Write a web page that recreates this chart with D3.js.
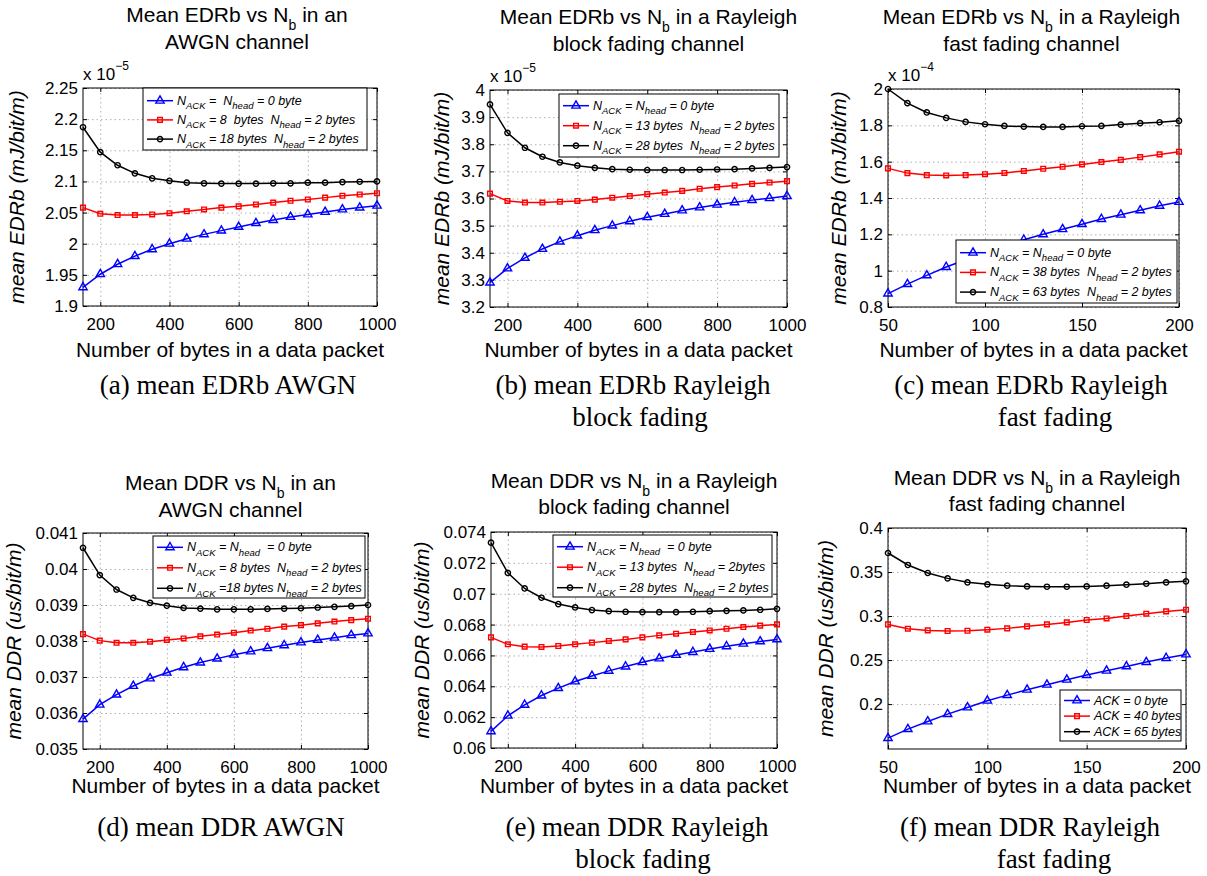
<!DOCTYPE html>
<html lang="en">
<head>
  <meta charset="UTF-8">
  <title>Mean EDRb and DDR vs Nb</title>
  <script src="https://d3js.org/d3.v7.min.js"></script>
  <style>
    body { margin: 0; padding: 0; background: #fff; }
    svg { font-family: "Liberation Sans", Arial, sans-serif; }
    .grid line { stroke: #b0b0b0; stroke-dasharray: 1.5,3; }
    .grid path { display: none; }
    .ticks path { display: none; }
    .ticks line { stroke: #000; }
    .ticks text { font-size: 17px; fill: #000; }
    .caption { font-family: "Liberation Serif", "Times New Roman", serif; font-size: 27px; }
  </style>
</head>
<body>
  <div id="chart"></div>
  <script>
    // x values (bytes per packet)
    const nbLong = [150, 200, 250, 300, 350, 400, 450, 500, 550, 600, 650, 700, 750, 800, 850, 900, 950, 1000];
    const nbShort = [50, 60, 70, 80, 90, 100, 110, 120, 130, 140, 150, 160, 170, 180, 190, 200];

    // (a) mean EDRb, AWGN (x 1e-5)
    const edrbAwgnNoAck = [1.930, 1.951, 1.967, 1.980, 1.991, 2.000, 2.008, 2.015, 2.021, 2.027, 2.033, 2.038, 2.043, 2.047, 2.051, 2.055, 2.058, 2.061];
    const edrbAwgnAck8 = [2.058, 2.048, 2.046, 2.046, 2.047, 2.049, 2.052, 2.055, 2.058, 2.060, 2.063, 2.066, 2.069, 2.071, 2.074, 2.077, 2.079, 2.081];
    const edrbAwgnAck18 = [2.187, 2.147, 2.126, 2.113, 2.105, 2.101, 2.098, 2.097, 2.0965, 2.0965, 2.0965, 2.097, 2.097, 2.098, 2.098, 2.099, 2.0995, 2.100];

    // (b) mean EDRb, Rayleigh block fading (x 1e-5)
    const edrbBlockNoAck = [3.290, 3.342, 3.381, 3.414, 3.441, 3.463, 3.483, 3.500, 3.516, 3.531, 3.543, 3.556, 3.567, 3.577, 3.586, 3.594, 3.601, 3.609];
    const edrbBlockAck13 = [3.618, 3.591, 3.585, 3.585, 3.588, 3.591, 3.596, 3.603, 3.609, 3.616, 3.622, 3.628, 3.636, 3.642, 3.648, 3.654, 3.659, 3.664];
    const edrbBlockAck28 = [3.947, 3.842, 3.787, 3.754, 3.733, 3.721, 3.713, 3.708, 3.706, 3.705, 3.705, 3.705, 3.706, 3.707, 3.708, 3.711, 3.713, 3.716];

    // (c) mean EDRb, Rayleigh fast fading (x 1e-4)
    const edrbFastNoAck = [0.874, 0.926, 0.974, 1.020, 1.060, 1.100, 1.137, 1.170, 1.200, 1.228, 1.256, 1.284, 1.308, 1.332, 1.357, 1.378];
    const edrbFastAck38 = [1.563, 1.537, 1.526, 1.524, 1.526, 1.531, 1.538, 1.549, 1.561, 1.572, 1.585, 1.598, 1.610, 1.625, 1.640, 1.655];
    const edrbFastAck63 = [2.000, 1.922, 1.871, 1.841, 1.819, 1.806, 1.797, 1.793, 1.791, 1.791, 1.795, 1.797, 1.804, 1.812, 1.817, 1.825];

    // (d) mean DDR, AWGN
    const ddrAwgnNoAck = [0.03583, 0.03623, 0.03651, 0.03675, 0.03696, 0.03712, 0.03727, 0.03740, 0.03751, 0.03762, 0.03771, 0.03780, 0.03788, 0.03796, 0.03803, 0.03809, 0.03816, 0.03821];
    const ddrAwgnAck8 = [0.03819, 0.03801, 0.03795, 0.03795, 0.03798, 0.03803, 0.03807, 0.03813, 0.03818, 0.03823, 0.03829, 0.03834, 0.03840, 0.03844, 0.03849, 0.03854, 0.03858, 0.03862];
    const ddrAwgnAck18 = [0.04059, 0.03983, 0.03943, 0.03920, 0.03906, 0.03898, 0.03892, 0.03890, 0.03888, 0.03888, 0.03888, 0.03889, 0.03890, 0.03891, 0.03893, 0.03895, 0.03897, 0.03900];

    // (e) mean DDR, Rayleigh block fading
    const ddrBlockNoAck = [0.06108, 0.06209, 0.06280, 0.06340, 0.06388, 0.06431, 0.06467, 0.06500, 0.06528, 0.06556, 0.06580, 0.06603, 0.06622, 0.06642, 0.06659, 0.06676, 0.06691, 0.06704];
    const ddrBlockAck13 = [0.06717, 0.06672, 0.06657, 0.06655, 0.06661, 0.06672, 0.06683, 0.06694, 0.06704, 0.06717, 0.06730, 0.06741, 0.06752, 0.06762, 0.06773, 0.06784, 0.06793, 0.06801];
    const ddrBlockAck28 = [0.07331, 0.07135, 0.07034, 0.06974, 0.06933, 0.06911, 0.06894, 0.06887, 0.06883, 0.06881, 0.06881, 0.06881, 0.06883, 0.06887, 0.06889, 0.06892, 0.06896, 0.06902];

    // (f) mean DDR, Rayleigh fast fading
    const ddrFastNoAck = [0.1614, 0.1716, 0.1803, 0.1886, 0.1962, 0.2038, 0.2102, 0.2163, 0.2220, 0.2277, 0.2330, 0.2379, 0.2428, 0.2477, 0.2523, 0.2564];
    const ddrFastAck40 = [0.2905, 0.2856, 0.2837, 0.2830, 0.2833, 0.2845, 0.2860, 0.2883, 0.2905, 0.2928, 0.2955, 0.2973, 0.3000, 0.3027, 0.3053, 0.3072];
    const ddrFastAck65 = [0.3716, 0.3580, 0.3489, 0.3428, 0.3383, 0.3360, 0.3345, 0.3337, 0.3333, 0.3333, 0.3337, 0.3345, 0.3356, 0.3367, 0.3383, 0.3394];

    // tick values
    const xTicksLong = [200, 400, 600, 800, 1000];
    const xTicksShort = [50, 100, 150, 200];
    const yTicksA = [1.9, 1.95, 2, 2.05, 2.1, 2.15, 2.2, 2.25];
    const yTicksB = [3.2, 3.3, 3.4, 3.5, 3.6, 3.7, 3.8, 3.9, 4];
    const yTicksC = [0.8, 1, 1.2, 1.4, 1.6, 1.8, 2];
    const yTicksD = [0.035, 0.036, 0.037, 0.038, 0.039, 0.04, 0.041];
    const yTicksE = [0.06, 0.062, 0.064, 0.066, 0.068, 0.07, 0.072, 0.074];
    const yTicksF = [0.2, 0.25, 0.3, 0.35, 0.4];

    // legend texts (_{..} = subscript)
    const legendA = ["N_{ACK} =  N_{head} = 0 byte", "N_{ACK} = 8  bytes  N_{head} = 2 bytes", "N_{ACK} = 18 bytes  N_{head} = 2 bytes"];
    const legendB = ["N_{ACK} = N_{head} = 0 byte", "N_{ACK} = 13 bytes  N_{head} = 2 bytes", "N_{ACK} = 28 bytes  N_{head} = 2 bytes"];
    const legendC = ["N_{ACK} = N_{head} = 0 byte", "N_{ACK} = 38 bytes  N_{head} = 2 bytes", "N_{ACK} = 63 bytes  N_{head} = 2 bytes"];
    const legendD = ["N_{ACK} = N_{head}  = 0 byte", "N_{ACK} = 8 bytes  N_{head} = 2 bytes", "N_{ACK} =18 bytes N_{head} = 2 bytes"];
    const legendE = ["N_{ACK} = N_{head}  = 0 byte", "N_{ACK} = 13 bytes  N_{head} = 2bytes", "N_{ACK} = 28 bytes  N_{head} = 2 bytes"];
    const legendF = ["ACK = 0 byte", "ACK = 40 bytes", "ACK = 65 bytes"];

    const colors = ["#0000ff", "#ff0000", "#000000"];
    const markers = [d3.symbolTriangle, d3.symbolSquare, d3.symbolCircle];
    const markerSizes = [30, 22, 22];

    // layout of the six panels
    const panels = [
      { left: 83, right: 377, top: 88, bottom: 306, xs: nbLong, xDomain: [150, 1000], xTicks: xTicksLong,
        yDomain: [1.9, 2.25], yTicks: yTicksA, series: [edrbAwgnNoAck, edrbAwgnAck8, edrbAwgnAck18],
        title: ["Mean EDRb vs N_{b} in an", "AWGN channel"], titleDx: 7, titleY: [22, 49],
        ylabel: "mean EDRb (mJ/bit/m)", ylabelX: 24, exponent: "\u22125",
        xlabelY: 357, legend: legendA, lg: { x: 143, y: 88, w: 224, h: 62, r0: 12.7, step: 19.2 },
        caption: ["(a) mean EDRb AWGN"], capX: [228], capY: [394] },
      { left: 490, right: 787, top: 90, bottom: 307, xs: nbLong, xDomain: [150, 1000], xTicks: xTicksLong,
        yDomain: [3.2, 4], yTicks: yTicksB, series: [edrbBlockNoAck, edrbBlockAck13, edrbBlockAck28],
        title: ["Mean EDRb vs N_{b} in a Rayleigh", "block fading channel"], titleDx: 10, titleY: [24, 51],
        ylabel: "mean EDRb (mJ/bit/m)", ylabelX: 449, exponent: "\u22125",
        xlabelY: 357, legend: legendB, lg: { x: 559, y: 94, w: 220, h: 63, r0: 11.7, step: 20 },
        caption: ["(b) mean EDRb Rayleigh", "block fading"], capX: [633, 640], capY: [394, 426] },
      { left: 888, right: 1179, top: 89, bottom: 307, xs: nbShort, xDomain: [50, 200], xTicks: xTicksShort,
        yDomain: [0.8, 2], yTicks: yTicksC, series: [edrbFastNoAck, edrbFastAck38, edrbFastAck63],
        title: ["Mean EDRb vs N_{b} in a Rayleigh", "fast fading channel"], titleDx: -2, titleY: [24, 51],
        ylabel: "mean EDRb (mJ/bit/m)", ylabelX: 846, exponent: "\u22124",
        xlabelY: 357, legend: legendC, lg: { x: 956, y: 240, w: 221, h: 63, r0: 12.7, step: 19.7 },
        caption: ["(c) mean EDRb Rayleigh", "fast fading"], capX: [1031, 1055], capY: [394, 426] },
      { left: 83, right: 368, top: 533, bottom: 749, xs: nbLong, xDomain: [150, 1000], xTicks: xTicksLong,
        yDomain: [0.035, 0.041], yTicks: yTicksD, series: [ddrAwgnNoAck, ddrAwgnAck8, ddrAwgnAck18],
        title: ["Mean DDR vs N_{b} in an", "AWGN channel"], titleDx: 5, titleY: [490, 517],
        ylabel: "mean DDR (us/bit/m)", ylabelX: 21, exponent: null,
        xlabelY: 793, legend: legendD, lg: { x: 153, y: 536, w: 212, h: 62, r0: 11.3, step: 20.5 },
        caption: ["(d) mean DDR AWGN"], capX: [221], capY: [836] },
      { left: 491, right: 777, top: 532, bottom: 748, xs: nbLong, xDomain: [150, 1000], xTicks: xTicksLong,
        yDomain: [0.06, 0.074], yTicks: yTicksE, series: [ddrBlockNoAck, ddrBlockAck13, ddrBlockAck28],
        title: ["Mean DDR vs N_{b} in a Rayleigh", "block fading channel"], titleDx: 0, titleY: [488, 514],
        ylabel: "mean DDR (us/bit/m)", ylabelX: 429, exponent: null,
        xlabelY: 793, legend: legendE, lg: { x: 553, y: 535, w: 219, h: 62, r0: 11.7, step: 20.5 },
        caption: ["(e) mean DDR Rayleigh", "block fading"], capX: [637, 643], capY: [836, 868] },
      { left: 888, right: 1186, top: 528, bottom: 749, xs: nbShort, xDomain: [50, 200], xTicks: xTicksShort,
        yDomain: [0.149, 0.4], yTicks: yTicksF, series: [ddrFastNoAck, ddrFastAck40, ddrFastAck65],
        title: ["Mean DDR vs N_{b} in a Rayleigh", "fast fading channel"], titleDx: 0, titleY: [485, 511],
        ylabel: "mean DDR (us/bit/m)", ylabelX: 833, exponent: null,
        xlabelY: 793, legend: legendF, lg: { x: 1060, y: 690, w: 121, h: 51, r0: 10.5, step: 15.6 },
        caption: ["(f) mean DDR Rayleigh", "fast fading"], capX: [1030, 1054], capY: [836, 868] }
    ];

    const svg = d3.select("#chart").append("svg")
      .attr("width", 1207)
      .attr("height", 876);

    // writes "N_{ACK} = ..." as tspans with subscripts
    function richText(text, str, subSize, shift) {
      const parts = str.split(/_\{(.*?)\}/);
      let down = false;
      parts.forEach((p, i) => {
        if (p === "") return;
        const t = text.append("tspan").text(p);
        if (i % 2 === 1) {
          t.attr("font-size", subSize).attr("dy", shift);
          down = true;
        } else if (down) {
          t.attr("dy", -shift);
          down = false;
        }
      });
      return text;
    }

    panels.forEach(p => {
      const g = svg.append("g");
      const x = d3.scaleLinear().domain(p.xDomain).range([p.left, p.right]);
      const y = d3.scaleLinear().domain(p.yDomain).range([p.bottom, p.top]);
      const w = p.right - p.left, h = p.bottom - p.top;
      const cx = (p.left + p.right) / 2;

      // dotted grid
      g.append("g").attr("class", "grid")
        .attr("transform", `translate(0,${p.bottom})`)
        .call(d3.axisBottom(x).tickValues(p.xTicks).tickSize(-h).tickFormat(""));
      g.append("g").attr("class", "grid")
        .attr("transform", `translate(${p.left},0)`)
        .call(d3.axisLeft(y).tickValues(p.yTicks).tickSize(-w).tickFormat(""));

      // ticks on all four sides, pointing inward
      g.append("g").attr("class", "ticks")
        .attr("transform", `translate(0,${p.bottom})`)
        .call(d3.axisBottom(x).tickValues(p.xTicks).tickSize(-4).tickPadding(12).tickFormat(d => String(d)));
      g.append("g").attr("class", "ticks")
        .attr("transform", `translate(0,${p.top})`)
        .call(d3.axisTop(x).tickValues(p.xTicks).tickSize(-4).tickFormat(""));
      g.append("g").attr("class", "ticks")
        .attr("transform", `translate(${p.left},0)`)
        .call(d3.axisLeft(y).tickValues(p.yTicks).tickSize(-4).tickPadding(5).tickFormat(d => String(d)));
      g.append("g").attr("class", "ticks")
        .attr("transform", `translate(${p.right},0)`)
        .call(d3.axisRight(y).tickValues(p.yTicks).tickSize(-4).tickFormat(""));

      g.append("rect")
        .attr("x", p.left).attr("y", p.top)
        .attr("width", w).attr("height", h)
        .attr("fill", "none").attr("stroke", "#000").attr("stroke-width", 1);

      // series
      const line = d3.line().x(d => x(d[0])).y(d => y(d[1]));
      p.series.forEach((vals, k) => {
        const pts = vals.map((v, i) => [p.xs[i], v]);
        g.append("path")
          .datum(pts)
          .attr("d", line)
          .attr("fill", "none")
          .attr("stroke", colors[k])
          .attr("stroke-width", 1.5);
        g.selectAll(null)
          .data(pts)
          .join("path")
          .attr("transform", d => `translate(${x(d[0])},${y(d[1])})`)
          .attr("d", d3.symbol(markers[k], markerSizes[k]))
          .attr("fill", "none")
          .attr("stroke", colors[k])
          .attr("stroke-width", 1.4);
      });

      // legend
      const lg = p.lg;
      g.append("rect")
        .attr("x", lg.x).attr("y", lg.y)
        .attr("width", lg.w).attr("height", lg.h)
        .attr("fill", "#fff").attr("stroke", "#000").attr("stroke-width", 1);
      p.legend.forEach((label, k) => {
        const ry = lg.y + lg.r0 + k * lg.step;
        g.append("line")
          .attr("x1", lg.x + 4).attr("x2", lg.x + 30)
          .attr("y1", ry).attr("y2", ry)
          .attr("stroke", colors[k]).attr("stroke-width", 1.5);
        g.append("path")
          .attr("transform", `translate(${lg.x + 17},${ry})`)
          .attr("d", d3.symbol(markers[k], markerSizes[k]))
          .attr("fill", "none")
          .attr("stroke", colors[k])
          .attr("stroke-width", 1.4);
        const t = g.append("text")
          .attr("x", lg.x + 34).attr("y", ry + 4)
          .attr("font-size", 12.5)
          .attr("font-style", "italic")
          .style("white-space", "pre");
        richText(t, label, 9.5, 4.5);
      });

      // title
      p.title.forEach((line, i) => {
        const t = g.append("text")
          .attr("x", cx + p.titleDx).attr("y", p.titleY[i])
          .attr("text-anchor", "middle")
          .attr("font-size", 21);
        richText(t, line, 14, 8);
      });

      // exponent
      if (p.exponent) {
        const t = g.append("text")
          .attr("x", p.left).attr("y", p.top - 8)
          .attr("font-size", 17)
          .text("x 10");
        t.append("tspan").attr("font-size", 12).attr("dy", -10).text(p.exponent);
      }

      // axis labels
      g.append("text")
        .attr("x", cx).attr("y", p.xlabelY)
        .attr("text-anchor", "middle")
        .attr("font-size", 21)
        .text("Number of bytes in a data packet");
      g.append("text")
        .attr("transform", `translate(${p.ylabelX},${(p.top + p.bottom) / 2}) rotate(-90)`)
        .attr("text-anchor", "middle")
        .attr("font-size", 21)
        .attr("font-style", "italic")
        .text(p.ylabel);

      // sub-figure caption
      p.caption.forEach((c, i) => {
        g.append("text")
          .attr("class", "caption")
          .attr("x", p.capX[i]).attr("y", p.capY[i])
          .attr("text-anchor", "middle")
          .text(c);
      });
    });
  </script>
</body>
</html>
